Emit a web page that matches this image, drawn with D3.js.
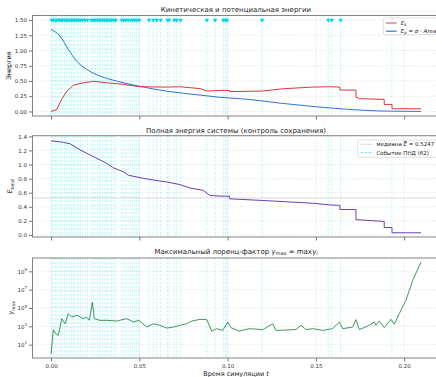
<!DOCTYPE html>
<html>
<head>
<meta charset="utf-8">
<script src="https://cdn.jsdelivr.net/npm/d3@7"></script>
<style>
body { margin: 0; background: #fff; }
svg { font-family: "DejaVu Sans", sans-serif; display: block; }
</style>
</head>
<body>
<div id="root"></div>
<script>
// --- data ---
const ekTimes = [0, 0.0032, 0.006, 0.0089, 0.0126, 0.0183, 0.024, 0.0315, 0.041, 0.0498, 0.0655, 0.073, 0.0844, 0.0882, 0.0957, 0.101, 0.101, 0.1199, 0.1312, 0.1482, 0.1576, 0.1636, 0.1636, 0.1727, 0.1727, 0.1746, 0.1887, 0.1887, 0.1931, 0.1931, 0.2095]
const ekValues = [0, 0.03, 0.2, 0.33, 0.43, 0.47, 0.495, 0.47, 0.445, 0.405, 0.4, 0.405, 0.375, 0.335, 0.345, 0.345, 0.325, 0.335, 0.372, 0.4, 0.405, 0.4, 0.352, 0.35, 0.235, 0.21, 0.197, 0.115, 0.115, 0.044, 0.044]

const epTimes = [0, 0.0051, 0.0098, 0.0145, 0.0202, 0.0278, 0.0372, 0.0498, 0.0655, 0.0844, 0.0957, 0.1123, 0.1312, 0.1501, 0.1689, 0.1878, 0.2095]
const epValues = [1.346, 1.236, 1.018, 0.826, 0.69, 0.58, 0.498, 0.415, 0.333, 0.268, 0.232, 0.197, 0.131, 0.077, 0.033, 0.006, 0.0]

const totalTimes = [0, 0.0071, 0.0108, 0.0164, 0.022, 0.0278, 0.0315, 0.0353, 0.041, 0.0438, 0.0498, 0.0561, 0.0655, 0.073, 0.0787, 0.0862, 0.09, 0.0957, 0.101, 0.101, 0.1199, 0.1482, 0.1576, 0.1636, 0.1636, 0.1727, 0.1727, 0.1887, 0.1887, 0.1931, 0.1931, 0.2095]
const totalValues = [1.338, 1.314, 1.295, 1.209, 1.137, 1.065, 1.017, 0.954, 0.897, 0.849, 0.816, 0.787, 0.752, 0.715, 0.666, 0.633, 0.561, 0.551, 0.551, 0.513, 0.489, 0.45, 0.427, 0.42, 0.36, 0.36, 0.216, 0.191, 0.105, 0.105, 0.03, 0.03]
const medianEnergy = 0.5247

const gammaTimes = [0, 0.0013, 0.0023, 0.0041, 0.0061, 0.0079, 0.0098, 0.0117, 0.0146, 0.0183, 0.0202, 0.0217, 0.0234, 0.0245, 0.0277, 0.0315, 0.0372, 0.0429, 0.0466, 0.0498, 0.0542, 0.0579, 0.0617, 0.0655, 0.0693, 0.073, 0.0768, 0.0797, 0.0844, 0.0882, 0.091, 0.0938, 0.0972, 0.1001, 0.1019, 0.1066, 0.1123, 0.1199, 0.1255, 0.1274, 0.1387, 0.1416, 0.1444, 0.1482, 0.1539, 0.1595, 0.1633, 0.1652, 0.1708, 0.1727, 0.1746, 0.1802, 0.1831, 0.184, 0.1859, 0.1887, 0.1925, 0.1944, 0.1972, 0.201, 0.2048, 0.2095]
const gammaValues = [1, 4.4e2, 1.9e2, 1.0e2, 6.9e3, 1.9e3, 2.4e4, 1.0e4, 1.6e4, 6.9e3, 1.0e4, 4.5e3, 4.5e5, 6.9e3, 4.5e3, 4.5e3, 3.8e3, 6.9e3, 3.0e3, 4.5e3, 8.3e2, 1.9e3, 1.3e3, 6.5e2, 8.3e2, 1.3e3, 1.9e3, 3.8e3, 5.8e3, 5.4e3, 3.0e2, 5.6e2, 3.6e2, 3.0e3, 7.2e2, 3.0e2, 5.6e2, 4.4e2, 1.9e3, 3.6e2, 4.4e2, 1.3e3, 4.4e2, 5.6e2, 3.6e2, 5.6e2, 3.0e3, 5.6e2, 8.3e2, 5.4e3, 4.4e2, 1.3e3, 3.0e3, 1.3e3, 3.8e3, 7.2e2, 5.8e3, 1.7e3, 2.4e4, 6.9e5, 1.0e8, 1.0e10]

// PND events (62)
const eventTimes = [0.0004, 0.0013, 0.0024, 0.0033, 0.0045, 0.0056, 0.0064, 0.0076, 0.0087, 0.0095, 0.0106, 0.0117, 0.0126, 0.0134, 0.0146, 0.0157, 0.0166, 0.0178, 0.0192, 0.0207,
  0.0228, 0.0238, 0.0249,
  0.0262, 0.0272, 0.0281, 0.0293, 0.0302, 0.0313, 0.0322, 0.0334, 0.0343, 0.0355, 0.0366,
  0.04, 0.0412, 0.0424, 0.0437, 0.0452, 0.0463, 0.0474, 0.0486, 0.05, 0.0555, 0.0579, 0.0598, 0.0621, 0.066, 0.0668, 0.0698, 0.0712, 0.0734,
  0.0882, 0.0929, 0.0976, 0.0987, 0.0997, 0.1195, 0.157, 0.159, 0.164, 0.193]
const eventMarkerLevel = 1.5

const xTicks = [0, 0.05, 0.1, 0.15, 0.2]
const energyTicks = [0, 0.25, 0.5, 0.75, 1.0, 1.25, 1.5]
const totalTicks = [0, 0.2, 0.4, 0.6, 0.8, 1.0, 1.2, 1.4]
const gammaTicks = [1e1, 1e3, 1e5, 1e7, 1e9]

// --- layout ---
const SVG_WIDTH = 436
const SVG_HEIGHT = 377
const AXES_LEFT = 32.5
const AXES_RIGHT = 439.5

const COLOR_EK = '#d9363e'
const COLOR_EP = '#2f74d8'
const COLOR_TOTAL = '#6b3fb8'
const COLOR_GAMMA = '#2e8b4a'
const COLOR_EVENT = '#00d6e6'

const svg = d3.select('#root')
    .append('svg')
    .attr('width', SVG_WIDTH)
    .attr('height', SVG_HEIGHT)

const xScale = d3.scaleLinear()
    .domain([-0.0105, 0.22])
    .range([AXES_LEFT, AXES_RIGHT])

const y1 = d3.scaleLinear().domain([-0.075, 1.575]).range([116, 15.5])
const y2 = d3.scaleLinear().domain([-0.03, 1.41]).range([237, 135.7])
const y3 = d3.scaleLog().domain([Math.pow(10, -0.45), Math.pow(10, 10.45)]).range([358, 258])

const zip = (ts, vs) => ts.map((t, i) => [t, vs[i]])

function makePanel(id, yScale, yTicks, yFormat, showXLabels) {
    const [bottom, top] = yScale.range()
    const g = svg.append('g').attr('id', id)

    g.append('clipPath').attr('id', `clip-${id}`)
        .append('rect')
        .attr('x', AXES_LEFT).attr('y', top)
        .attr('width', AXES_RIGHT - AXES_LEFT).attr('height', bottom - top)

    // grid
    const grid = g.append('g')
    grid.selectAll('line.gy').data(yTicks).enter().append('line')
        .attr('x1', AXES_LEFT).attr('x2', AXES_RIGHT)
        .attr('y1', d => yScale(d)).attr('y2', d => yScale(d))
        .attr('stroke', '#c8c8c8').attr('stroke-width', 0.5).attr('stroke-dasharray', '1,1.5')
    grid.selectAll('line.gx').data(xTicks).enter().append('line')
        .attr('x1', d => xScale(d)).attr('x2', d => xScale(d))
        .attr('y1', top).attr('y2', bottom)
        .attr('stroke', '#c8c8c8').attr('stroke-width', 0.5).attr('stroke-dasharray', '1,1.5')

    // event lines
    g.append('g').selectAll('line').data(eventTimes).enter().append('line')
        .attr('x1', d => xScale(d)).attr('x2', d => xScale(d))
        .attr('y1', top).attr('y2', bottom)
        .attr('stroke', COLOR_EVENT).attr('stroke-opacity', 0.3)
        .attr('stroke-width', 0.8).attr('stroke-dasharray', '2.5,1.5')

    const plot = g.append('g').attr('clip-path', `url(#clip-${id})`)

    const yAxis = d3.axisLeft(yScale).tickValues(yTicks).tickFormat(yFormat).tickSize(3.5).tickPadding(2)
    const ya = g.append('g').attr('transform', `translate(${AXES_LEFT},0)`).call(yAxis)

    const xAxis = d3.axisBottom(xScale).tickValues(xTicks)
        .tickFormat(showXLabels ? d3.format('.2f') : () => '').tickSize(3.5).tickPadding(3)
    const xa = g.append('g').attr('transform', `translate(0,${bottom})`).call(xAxis)

    for (const a of [ya, xa]) {
        a.select('.domain').remove()
        a.selectAll('.tick line').attr('stroke', '#555').attr('stroke-width', 0.8)
        a.selectAll('.tick text').attr('fill', '#333').attr('font-size', 5.5).attr('font-family', 'DejaVu Sans')
    }

    g.append('rect')
        .attr('x', AXES_LEFT).attr('y', top)
        .attr('width', AXES_RIGHT - AXES_LEFT).attr('height', bottom - top)
        .attr('fill', 'none').attr('stroke', '#777').attr('stroke-width', 0.9)

    return { g, plot, ya, top, bottom }
}

function addTitle(text, y) {
    const t = svg.append('text')
        .attr('x', (AXES_LEFT + AXES_RIGHT) / 2).attr('y', y)
        .attr('text-anchor', 'middle').attr('font-size', 7).attr('fill', '#222')
    return t.text(text)
}

function addYLabel(x, yCenter) {
    return svg.append('text')
        .attr('transform', `translate(${x},${yCenter}) rotate(-90)`)
        .attr('text-anchor', 'middle').attr('font-size', 6.5).attr('fill', '#222')
}

// ---------- panel 1: kinetic / potential ----------
const p1 = makePanel('p1', y1, energyTicks, d3.format('.2f'), false)
p1.plot.append('path')
    .datum(zip(epTimes, epValues))
    .attr('fill', 'none').attr('stroke', COLOR_EP).attr('stroke-width', 1)
    .attr('d', d3.line().x(d => xScale(d[0])).y(d => y1(d[1])).curve(d3.curveMonotoneX))
p1.plot.append('path')
    .datum(zip(ekTimes, ekValues))
    .attr('fill', 'none').attr('stroke', COLOR_EK).attr('stroke-width', 1)
    .attr('d', d3.line().x(d => xScale(d[0])).y(d => y1(d[1])))
p1.plot.append('g').selectAll('path').data(eventTimes).enter().append('path')
    .attr('d', d3.symbol().type(d3.symbolTriangle).size(9))
    .attr('transform', d => `translate(${xScale(d)},${y1(eventMarkerLevel)}) rotate(180)`)
    .attr('fill', COLOR_EVENT)

addTitle('Кинетическая и потенциальная энергии', 11.5)
addYLabel(10.5, 65.5).text('Энергия')

// legend 1
const lg1 = svg.append('g')
lg1.append('rect').attr('x', 383.3).attr('y', 18).attr('width', 60).attr('height', 16.5)
    .attr('rx', 1.5).attr('fill', '#fff').attr('fill-opacity', 0.85).attr('stroke', '#ccc').attr('stroke-width', 0.6)
lg1.append('line').attr('x1', 386).attr('x2', 396.7).attr('y1', 23).attr('y2', 23)
    .attr('stroke', COLOR_EK).attr('stroke-width', 1.6).attr('stroke-opacity', 0.6)
lg1.append('line').attr('x1', 386).attr('x2', 396.7).attr('y1', 31.2).attr('y2', 31.2)
    .attr('stroke', COLOR_EP).attr('stroke-width', 1.2)
const l1a = lg1.append('text').attr('x', 400.7).attr('y', 25).attr('font-size', 5.5).attr('fill', '#222')
l1a.append('tspan').attr('font-style', 'italic').text('E')
l1a.append('tspan').attr('font-size', 4).attr('dy', 1.2).attr('font-style', 'italic').text('k')
const l1b = lg1.append('text').attr('x', 400.7).attr('y', 33.2).attr('font-size', 5.5).attr('fill', '#222')
l1b.append('tspan').attr('font-style', 'italic').text('E')
l1b.append('tspan').attr('font-size', 4).attr('dy', 1.2).attr('font-style', 'italic').text('p')
l1b.append('tspan').attr('dy', -1.2).text(' = ')
l1b.append('tspan').attr('font-style', 'italic').text('σ')
l1b.append('tspan').text(' · ')
l1b.append('tspan').attr('font-style', 'italic').text('Area')

// ---------- panel 2: total energy ----------
const p2 = makePanel('p2', y2, totalTicks, d3.format('.1f'), false)
p2.plot.append('line')
    .attr('x1', AXES_LEFT).attr('x2', AXES_RIGHT)
    .attr('y1', y2(medianEnergy)).attr('y2', y2(medianEnergy))
    .attr('stroke', '#bdbdbd').attr('stroke-width', 0.6)
p2.plot.append('path')
    .datum(zip(totalTimes, totalValues))
    .attr('fill', 'none').attr('stroke', COLOR_TOTAL).attr('stroke-width', 1)
    .attr('d', d3.line().x(d => xScale(d[0])).y(d => y2(d[1])))

addTitle('Полная энергия системы (контроль сохранения)', 132.5)
const yl2 = addYLabel(12, 186.3)
yl2.append('tspan').attr('font-style', 'italic').text('E')
yl2.append('tspan').attr('font-size', 4.5).attr('dy', 1.5).attr('font-style', 'italic').text('total')

// legend 2
const lg2 = svg.append('g')
lg2.append('rect').attr('x', 357.7).attr('y', 140).attr('width', 85).attr('height', 17.3)
    .attr('rx', 1.5).attr('fill', '#fff').attr('fill-opacity', 0.85).attr('stroke', '#ccc').attr('stroke-width', 0.6)
lg2.append('line').attr('x1', 360.7).attr('x2', 372.3).attr('y1', 144.3).attr('y2', 144.3)
    .attr('stroke', '#bdbdbd').attr('stroke-width', 0.6)
lg2.append('line').attr('x1', 360.7).attr('x2', 372.3).attr('y1', 152.6).attr('y2', 152.6)
    .attr('stroke', COLOR_EVENT).attr('stroke-opacity', 0.7).attr('stroke-width', 0.9).attr('stroke-dasharray', '2.5,1.5')
const l2a = lg2.append('text').attr('x', 376.5).attr('y', 146.3).attr('font-size', 5.5).attr('fill', '#222')
l2a.append('tspan').text('медиана ')
l2a.append('tspan').attr('font-style', 'italic').attr('text-decoration', 'overline').text('E')
l2a.append('tspan').text(' = 0.5247')
lg2.append('text').attr('x', 376.5).attr('y', 154.6).attr('font-size', 5.5).attr('fill', '#222')
    .text('Событие ПНД (62)')

// ---------- panel 3: max Lorentz factor ----------
const p3 = makePanel('p3', y3, gammaTicks, () => '', true)
p3.ya.selectAll('.tick text').each(function (d) {
    const t = d3.select(this)
    t.append('tspan').text('10')
    t.append('tspan').attr('dy', -2.5).attr('font-size', 4).text(Math.round(Math.log10(d)))
})
p3.plot.append('path')
    .datum(zip(gammaTimes, gammaValues))
    .attr('fill', 'none').attr('stroke', COLOR_GAMMA).attr('stroke-width', 0.9)
    .attr('d', d3.line().x(d => xScale(d[0])).y(d => y3(d[1])))

const t3 = addTitle('Максимальный лоренц-фактор ', 253.5)
t3.append('tspan').attr('font-style', 'italic').text('γ')
t3.append('tspan').attr('font-size', 5).attr('dy', 1.5).text('max')
t3.append('tspan').attr('dy', -1.5).text(' = max')
t3.append('tspan').attr('font-style', 'italic').text('γ')
t3.append('tspan').attr('font-size', 5).attr('dy', 1.5).attr('font-style', 'italic').text('i')

const yl3 = addYLabel(13, 308)
yl3.append('tspan').attr('font-style', 'italic').text('γ')
yl3.append('tspan').attr('font-size', 4.5).attr('dy', 1.5).text('max')

const xl = svg.append('text')
    .attr('x', (AXES_LEFT + AXES_RIGHT) / 2).attr('y', 375.5)
    .attr('text-anchor', 'middle').attr('font-size', 6.5).attr('fill', '#222')
xl.append('tspan').text('Время симуляции ')
xl.append('tspan').attr('font-style', 'italic').text('t')
</script>
</body>
</html>
